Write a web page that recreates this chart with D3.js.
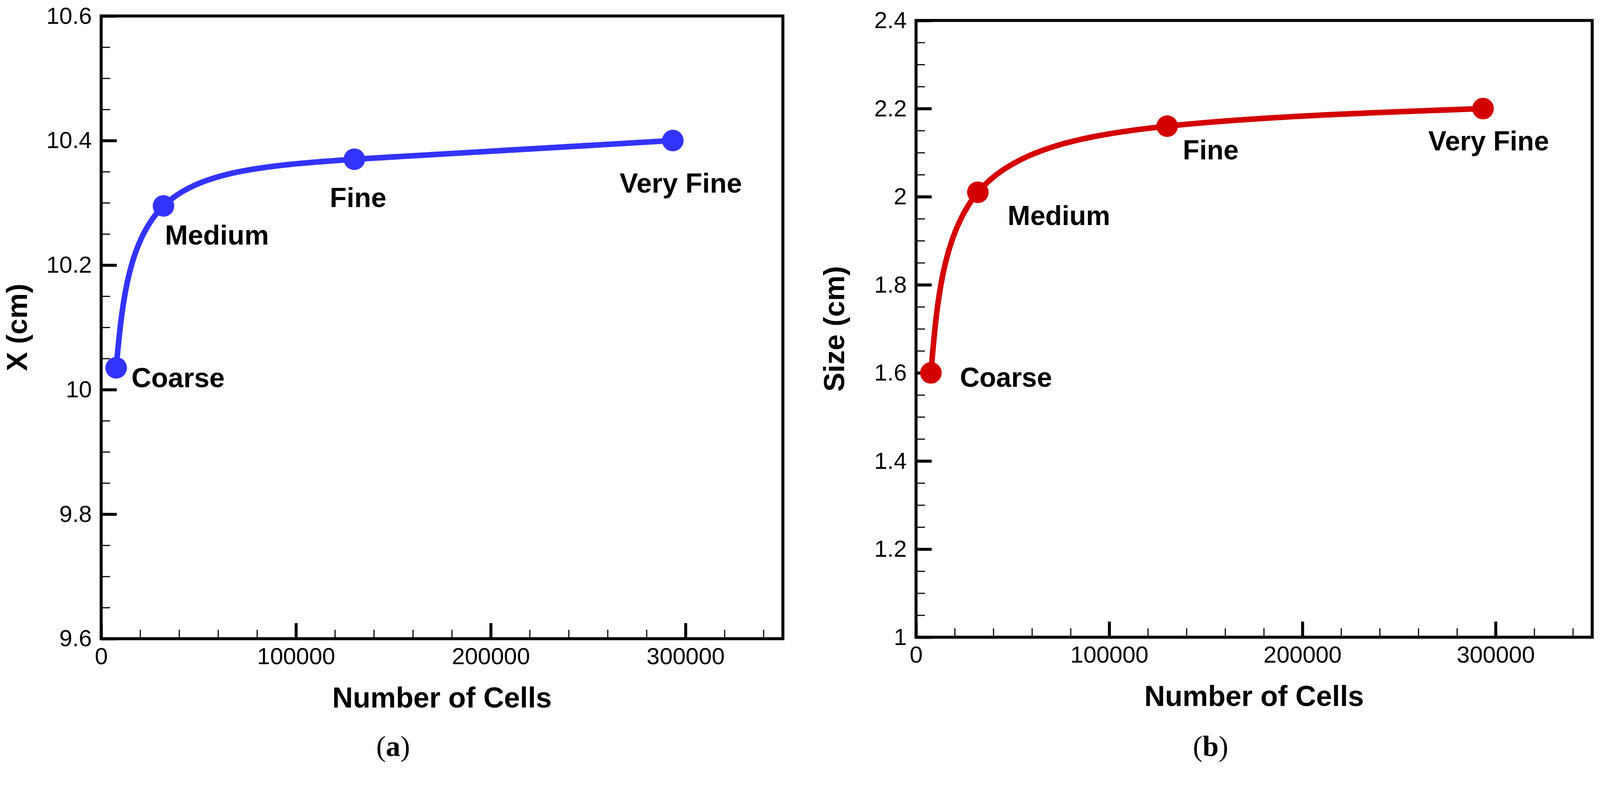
<!DOCTYPE html>
<html>
<head>
<meta charset="utf-8">
<script src="https://cdn.jsdelivr.net/npm/d3@7"></script>
<style>
  html, body { margin: 0; padding: 0; background: #ffffff; width: 100%; height: 100%; overflow: hidden; }
  svg { display: block; width: 100vw; height: 100vh; }
</style>
</head>
<body>
<svg id="chart" viewBox="0 0 4302 2063" preserveAspectRatio="xMinYMin meet"></svg>
<script>
// ---------------- data ----------------
const meshNames   = ["Coarse", "Medium", "Fine", "Very Fine"];
const cellCounts  = [7700, 32000, 130000, 293500];
const xPosValues  = [10.035, 10.295, 10.37, 10.40];   // panel (a): X (cm)
const sizeValues  = [1.60, 2.01, 2.16, 2.20];          // panel (b): Size (cm)

const xTickValues = [0, 100000, 200000, 300000];
const xTickLabels = ["0", "100000", "200000", "300000"];
const leftYTickValues  = [9.6, 9.8, 10, 10.2, 10.4, 10.6];
const leftYTickLabels  = ["9.6", "9.8", "10", "10.2", "10.4", "10.6"];
const rightYTickValues = [1, 1.2, 1.4, 1.6, 1.8, 2, 2.2, 2.4];
const rightYTickLabels = ["1", "1.2", "1.4", "1.6", "1.8", "2", "2.2", "2.4"];

const xAxisTitle = "Number of Cells";
const leftYTitle = "X (cm)";
const rightYTitle = "Size (cm)";
const captions = ["a", "b"];

// ---------------- layout / style ----------------
const SANS = "'Liberation Sans', Arial, Helvetica, sans-serif";
const SERIF = "'Liberation Serif', 'Times New Roman', serif";

const panels = [
  {
    values: xPosValues, yDomain: [9.6, 10.6],
    yTicks: leftYTickValues, yLabels: leftYTickLabels,
    left: 272, right: 2105, top: 43, bottom: 1717,
    color: "#3333FF", yTitle: leftYTitle, yTitleX: 72,
    caption: captions[0], captionX: 1057,
    labelOffsets: [[41, 52], [4, 104], [-66, 129], [-143, 140]],
    labelSize: 74
  },
  {
    values: sizeValues, yDomain: [1.0, 2.4],
    yTicks: rightYTickValues, yLabels: rightYTickLabels,
    left: 2463, right: 4281, top: 55, bottom: 1713,
    color: "#D40000", yTitle: rightYTitle, yTitleX: 2270,
    caption: captions[1], captionX: 3255,
    labelOffsets: [[78, 37], [80, 88], [42, 89], [-147, 113]],
    labelSize: 73
  }
];

const svg = d3.select("#chart");
svg.append("rect").attr("width", 4302).attr("height", 2063).attr("fill", "#ffffff");

function minorRange(lo, hi, step, majors) {
  const out = [];
  const n = Math.round((hi - lo) / step);
  for (let i = 0; i <= n; i++) {
    const v = +(lo + i * step).toFixed(6);
    if (!majors.some(m => Math.abs(m - v) < 1e-9)) out.push(v);
  }
  return out;
}

panels.forEach(p => {
  const x = d3.scaleLinear().domain([0, 350000]).range([p.left, p.right]);
  const y = d3.scaleLinear().domain(p.yDomain).range([p.bottom, p.top]);

  const g = svg.append("g");

  // minor ticks
  const xMinor = minorRange(0, 340000, 20000, xTickValues);
  const yMinor = minorRange(p.yDomain[0], p.yDomain[1], 0.05, p.yTicks);

  const xMinorAxis = g.append("g")
    .attr("transform", `translate(0,${p.bottom})`)
    .call(d3.axisBottom(x).tickValues(xMinor).tickSize(-24).tickFormat(""));
  const yMinorAxis = g.append("g")
    .attr("transform", `translate(${p.left},0)`)
    .call(d3.axisLeft(y).tickValues(yMinor).tickSize(-24).tickFormat(""));
  [xMinorAxis, yMinorAxis].forEach(a => {
    a.select(".domain").remove();
    a.selectAll("line").attr("stroke", "#000").attr("stroke-width", 3);
  });

  // major ticks + labels
  const xAxis = g.append("g")
    .attr("transform", `translate(0,${p.bottom})`)
    .call(d3.axisBottom(x).tickValues(xTickValues).tickSize(-42).tickPadding(24)
      .tickFormat((d, i) => xTickLabels[i]));
  const yAxis = g.append("g")
    .attr("transform", `translate(${p.left},0)`)
    .call(d3.axisLeft(y).tickValues(p.yTicks).tickSize(-42).tickPadding(25)
      .tickFormat((d, i) => p.yLabels[i]));
  [xAxis, yAxis].forEach(a => {
    a.select(".domain").remove();
    a.selectAll("line").attr("stroke", "#000").attr("stroke-width", 8);
    a.selectAll("text").attr("fill", "#000")
      .style("font-family", SANS).style("font-size", "63px");
  });

  // frame
  g.append("rect")
    .attr("x", p.left).attr("y", p.top)
    .attr("width", p.right - p.left).attr("height", p.bottom - p.top)
    .attr("fill", "none").attr("stroke", "#000").attr("stroke-width", 8)
    .attr("stroke-linejoin", "miter");

  // data
  const pts = cellCounts.map((c, i) => [c, p.values[i]]);
  const line = d3.line().x(d => x(d[0])).y(d => y(d[1])).curve(d3.curveNatural);
  g.append("path").datum(pts)
    .attr("d", line)
    .attr("fill", "none").attr("stroke", p.color)
    .attr("stroke-width", 15).attr("stroke-linecap", "round").attr("stroke-linejoin", "round");

  g.selectAll("circle.pt").data(pts).enter().append("circle")
    .attr("class", "pt")
    .attr("cx", d => x(d[0])).attr("cy", d => y(d[1]))
    .attr("r", 29).attr("fill", p.color);

  g.selectAll("text.lbl").data(pts).enter().append("text")
    .attr("class", "lbl")
    .attr("x", (d, i) => x(d[0]) + p.labelOffsets[i][0])
    .attr("y", (d, i) => y(d[1]) + p.labelOffsets[i][1])
    .style("font-family", SANS).style("font-weight", "bold")
    .style("font-size", p.labelSize + "px").attr("fill", "#000")
    .text((d, i) => meshNames[i]);

  // axis titles
  g.append("text")
    .attr("x", (p.left + p.right) / 2).attr("y", p.bottom + 185)
    .attr("text-anchor", "middle")
    .style("font-family", SANS).style("font-weight", "bold").style("font-size", "77px")
    .text(xAxisTitle);

  g.append("text")
    .attr("transform", `translate(${p.yTitleX},${(p.top + p.bottom) / 2}) rotate(-90)`)
    .attr("text-anchor", "middle")
    .style("font-family", SANS).style("font-weight", "bold").style("font-size", "77px")
    .text(p.yTitle);

  // caption
  const cap = svg.append("text")
    .attr("x", p.captionX).attr("y", 2032)
    .attr("text-anchor", "middle")
    .style("font-family", SERIF).style("font-size", "78px").attr("fill", "#000");
  cap.append("tspan").text("(");
  cap.append("tspan").style("font-weight", "bold").text(p.caption);
  cap.append("tspan").text(")");
});
</script>
</body>
</html>
